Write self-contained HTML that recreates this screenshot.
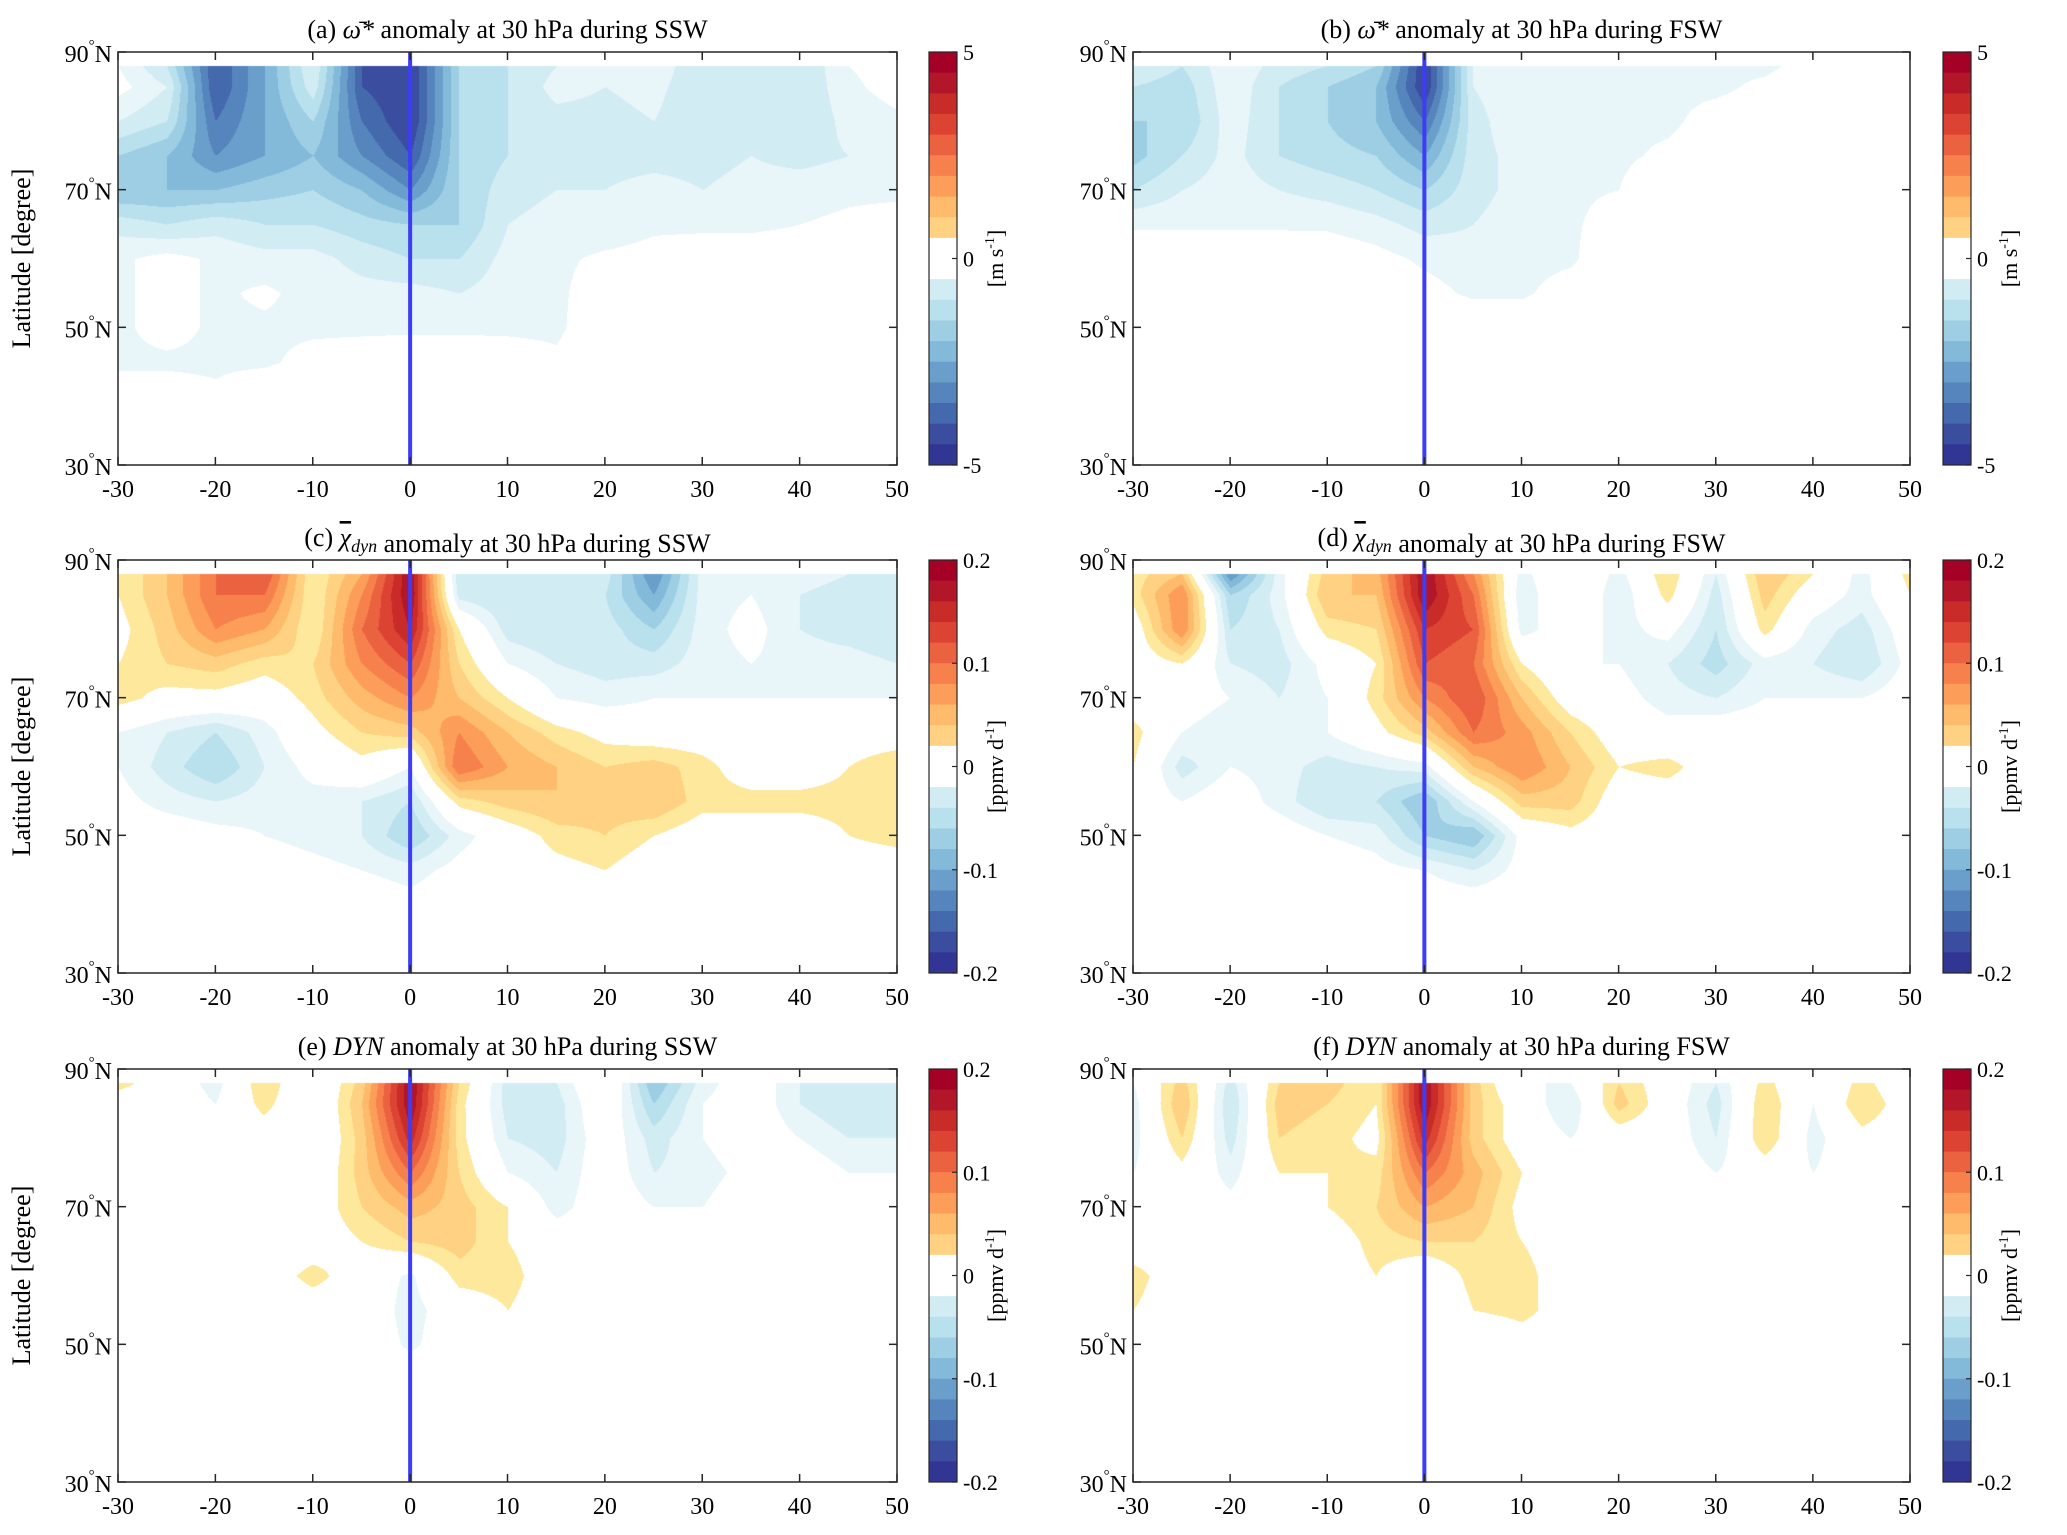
<!DOCTYPE html>
<html><head><meta charset="utf-8">
<style>
html,body{margin:0;padding:0;background:#fff;}
#root{position:relative;width:2067px;height:1535px;overflow:hidden;background:#fff;font-family:"Liberation Serif",serif;}
canvas{position:absolute;}
svg{position:absolute;left:0;top:0;}
</style></head>
<body>
<div id="root">
<svg id="ov" width="2067" height="1535"></svg>
</div>
<script>
// ---- data (rows = latitudes, cols = days) ----
const days = [-30,-25,-20,-15,-10,-5,0,5,10,15,20,25,30,35,40,45,50];
const lats = [88,85,80,75,70,65,60,55,50,45,40,35,30];
const xTicks = [-30,-20,-10,0,10,20,30,40,50];
const yTicks = [90,70,50,30];
const cbTicksOmega = [5,0,-5];
const cbTicksChi = [0.2,0.1,0,-0.1,-0.2];
const Z=[0,0,0,0,0,0,0,0,0,0,0,0,0,0,0,0,0];
const omegaSSW = [
[-0.5,-1.5,-4.5,-3,-1,-4.5,-5,-2,-1.5,-1,-1,-0.6,-1.5,-1,-1.5,-0.5,-0.3],
[-0.3,-1,-4.5,-3,-1.2,-4.5,-5,-2,-1.5,-0.8,-1,-0.8,-1.5,-1,-1.5,-0.6,-0.3],
[-1,-1.5,-4,-3,-2,-4,-5,-2,-1.5,-1.2,-1.2,-1,-1.5,-1,-1.5,-0.8,-0.6],
[-2,-2.5,-3.5,-3,-2.5,-3.5,-4.5,-2,-1.5,-1.2,-1.2,-1.2,-1.2,-1,-1.2,-1,-0.7],
[-2.5,-2.5,-2.5,-2.2,-2,-2.5,-3.5,-2,-1.2,-1,-1,-0.8,-1,-0.8,-0.7,-0.6,-0.6],
[-1.2,-1.5,-1.2,-1.5,-1.5,-1.8,-2,-2,-1,-0.8,-0.8,-0.6,-0.6,-0.6,-0.5,-0.4,-0.3],
[-0.6,-0.3,-0.6,-0.8,-0.8,-1.2,-1.5,-1.5,-0.8,-0.6,-0.4,-0.3,-0.2,-0.2,-0.2,-0.1,-0.1],
[-0.6,-0.3,-0.6,-0.4,-0.7,-0.8,-0.8,-1,-0.7,-0.6,-0.2,-0.1,0,0,0,0,0],
[-0.6,-0.3,-0.6,-0.6,-0.6,-0.6,-0.6,-0.6,-0.6,-0.6,-0.1,0,0,0,0,0,0],
[-0.6,-0.6,-0.6,-0.6,-0.3,-0.2,-0.1,-0.1,-0.2,-0.4,0,0,0,0,0,0,0],
[-0.2,-0.2,-0.4,0,0,0,0,0,0,0,0,0,0,0,0,0,0],
Z,Z];
const omegaFSW = [
[-1,-1.5,-0.6,-1.2,-1.5,-2,-5,-1,-0.6,-0.6,-0.6,-0.6,-0.6,-0.6,-0.3,-0.2,0],
[-1.5,-1.8,-0.6,-1.5,-2,-2.5,-5,-1,-0.6,-0.6,-0.6,-0.6,-0.6,-0.4,-0.2,-0.3,0],
[-2,-2,-0.7,-1.5,-2,-2.5,-4,-1.2,-0.6,-0.6,-0.6,-0.6,-0.3,-0.2,0,0,0],
[-2.2,-1.5,-0.8,-1.5,-1.8,-2,-3,-1.2,-0.8,-0.6,-0.6,-0.4,-0.2,0,0,0,0],
[-1.5,-1,-0.7,-1,-1.2,-1.5,-2,-1.2,-0.8,-0.6,-0.5,0,0,0,0,0,0],
[-0.6,-0.6,-0.6,-0.6,-0.6,-0.8,-1.2,-1,-0.7,-0.6,-0.2,0,0,0,0,0,0],
[0,0,0,0,-0.1,-0.3,-0.6,-0.8,-0.7,-0.6,0,0,0,0,0,0,0],
[0,0,0,0,0,0,-0.3,-0.6,-0.6,-0.2,0,0,0,0,0,0,0],
Z,Z,Z,Z,Z];
const chiSSW = [
[.02,.06,.12,.14,.02,.08,.2,-.06,-.06,-.05,-.05,-.14,-.03,-.03,-.03,-.04,-.05],
[.02,.06,.12,.12,.02,.1,.2,-.05,-.06,-.06,-.06,-.12,-.03,-.02,-.04,-.05,-.06],
[.01,.05,.1,.08,.02,.12,.18,.02,-.05,-.06,-.05,-.08,-.03,-.01,-.04,-.05,-.06],
[.02,.04,.05,.03,.04,.1,.14,.04,-.02,-.04,-.05,-.05,-.03,-.02,-.03,-.03,-.04],
[.03,.01,.01,0,.03,.07,.1,.06,.02,-.02,-.03,-.02,-.02,-.02,-.02,-.02,-.02],
[-.02,-.04,-.06,-.03,.01,.04,.05,.1,.06,.03,.01,0,0,-.01,0,0,0],
[-.02,-.05,-.08,-.04,-.01,.01,-.02,.12,.08,.06,.04,.05,.03,0,0,.02,.04],
[-.01,-.03,-.04,-.03,-.03,-.04,-.06,.03,.05,.06,.05,.06,.03,.03,.03,.03,.04],
[0,0,-.01,-.02,-.03,-.04,-.08,-.03,0,.03,.04,.02,0,0,0,.02,.03],
[0,0,0,0,-.01,-.02,-.03,-.01,0,.01,.02,0,0,0,0,0,0],
[0,0,0,0,0,0,-.01,0,0,0,0,0,0,0,0,0,0],
Z,Z];
const chiFSW = [
[.03,.06,-.14,-.03,.05,.07,.2,.1,-.03,.02,-.03,.04,-.04,.06,.02,-.03,.03],
[.03,.1,-.08,-.03,.06,.06,.2,.12,-.04,.02,-.04,.03,-.05,.05,0,-.03,.02],
[0,.1,-.06,-.04,.03,.04,.16,.14,-.03,0,-.03,-.01,-.06,.03,-.03,-.05,0],
[0,.02,-.04,-.05,-.01,.02,.14,.12,.02,-.02,-.02,-.04,-.07,-.03,-.04,-.06,-.01],
[0,0,-.02,-.04,-.02,.03,.1,.14,.06,0,-.01,-.03,-.04,-.02,-.02,-.02,0],
[.03,-.02,-.04,-.02,-.02,.01,.05,.12,.09,.04,0,-.01,0,0,0,0,0],
[.02,-.05,-.02,-.03,-.05,-.04,-.03,.06,.1,.06,.02,.03,0,0,0,0,0],
[0,-.02,0,-.03,-.06,-.06,-.1,-.02,.05,.05,0,0,0,0,0,0,0],
[0,0,0,0,-.02,-.03,-.08,-.1,-.01,.01,0,0,0,0,0,0,0],
[0,0,0,0,0,-.01,-.02,-.04,-.01,0,0,0,0,0,0,0,0],
Z,Z,Z];
const dynSSW = [
[.03,0,-.03,.04,-.02,.05,.2,.04,-.05,-.04,.02,-.1,-.03,0,-.04,-.06,-.04],
[0,0,-.02,.03,-.02,.06,.2,.03,-.05,-.05,.01,-.08,-.02,0,-.04,-.06,-.05],
[0,0,0,0,-.02,.05,.17,.03,-.04,-.05,0,-.05,-.02,0,-.02,-.04,-.04],
[0,0,0,0,-.01,.05,.12,.04,-.02,-.04,0,-.04,-.03,-.01,0,-.02,-.02],
[.01,0,0,0,0,.04,.07,.05,.02,-.03,0,-.02,-.02,0,0,-.01,0],
[0,0,0,0,0,.02,.04,.05,.02,0,0,0,0,0,0,0,0],
[0,0,0,0,.03,0,-.025,.03,.03,0,0,0,0,0,0,0,0],
[0,0,0,0,0,0,-.03,0,.02,0,0,0,0,0,0,0,0],
[0,0,0,0,0,0,-.025,0,0,0,0,0,0,0,0,0,0],
Z,Z,Z,Z];
const dynFSW = [
[-.02,.05,-.05,.04,.05,.02,.2,.05,-.02,-.02,.04,0,-.04,.03,-.02,.03,-.01],
[-.03,.06,-.06,.05,.04,.02,.2,.05,0,-.04,.05,0,-.05,.04,-.02,.04,0],
[-.03,.04,-.05,.04,.03,.01,.17,.05,0,-.02,0,0,-.04,.04,-.03,.01,0],
[-.02,.01,-.03,.02,.02,.03,.12,.07,.02,0,0,0,-.02,0,-.02,0,0],
[0,0,-.01,0,.02,.04,.08,.06,.01,0,0,0,0,0,0,0,0],
[0,0,0,0,0,.03,.04,.04,.02,0,0,0,0,0,0,0,0],
[.03,0,0,0,0,.02,-.01,.03,.03,0,0,0,0,0,0,0,0],
[.02,0,0,0,0,0,-.02,.02,.03,0,0,0,0,0,0,0,0],
[0,0,0,0,0,0,-.01,-.02,0,0,0,0,0,0,0,0,0],
Z,Z,Z,Z];

const posCols=['#fee89b','#fed282','#fdbb6b','#fc9e59','#f7814c','#ea623f','#dc4332','#c92b28','#b21628','#a50026'];
const negCols=['#e8f5f9','#d2ecf4','#b9e0ed','#9ecee3','#83b9d9','#6b9fcb','#5685bd','#4469ad','#3a4d9f','#313695'];

const svg=document.getElementById('ov');
const root=document.getElementById('root');
const NS='http://www.w3.org/2000/svg';
function mk(tag,attrs,parent){const e=document.createElementNS(NS,tag);for(const k in attrs)e.setAttribute(k,attrs[k]);(parent||svg).appendChild(e);return e;}

const panels=[
 {id:'a',x:118,y:52,w:779,h:413,data:omegaSSW,max:5,ticks:cbTicksOmega,cbx:929,unit:'m s',letter:'(a) ',sym:'omega',tail:' anomaly at 30 hPa during SSW',ylab:true},
 {id:'b',x:1133,y:52,w:777,h:413,data:omegaFSW,max:5,ticks:cbTicksOmega,cbx:1943,unit:'m s',letter:'(b) ',sym:'omega',tail:' anomaly at 30 hPa during FSW',ylab:false},
 {id:'c',x:118,y:560,w:779,h:413,data:chiSSW,max:0.2,ticks:cbTicksChi,cbx:929,unit:'ppmv d',letter:'(c) ',sym:'chi',tail:' anomaly at 30 hPa during SSW',ylab:true},
 {id:'d',x:1133,y:560,w:777,h:413,data:chiFSW,max:0.2,ticks:cbTicksChi,cbx:1943,unit:'ppmv d',letter:'(d) ',sym:'chi',tail:' anomaly at 30 hPa during FSW',ylab:false},
 {id:'e',x:118,y:1069,w:779,h:413,data:dynSSW,max:0.2,ticks:cbTicksChi,cbx:929,unit:'ppmv d',letter:'(e) ',sym:'dyn',tail:' anomaly at 30 hPa during SSW',ylab:true},
 {id:'f',x:1133,y:1069,w:777,h:413,data:dynFSW,max:0.2,ticks:cbTicksChi,cbx:1943,unit:'ppmv d',letter:'(f) ',sym:'dyn',tail:' anomaly at 30 hPa during FSW',ylab:false}
];

function sample(data,day,lat){
  let cf=(day-days[0])/5; cf=Math.max(0,Math.min(days.length-1.0001,cf));
  const c0=Math.floor(cf),tc=cf-c0;
  let r0=0; while(r0<lats.length-2 && lat<lats[r0+1]) r0++;
  let tr=(lats[r0]-lat)/(lats[r0]-lats[r0+1]); tr=Math.max(0,Math.min(1,tr));
  const a=data[r0][c0],b=data[r0][c0+1],c=data[r0+1][c0],d=data[r0+1][c0+1];
  return (a*(1-tc)+b*tc)*(1-tr)+(c*(1-tc)+d*tc)*tr;
}
function hex(h){return [parseInt(h.slice(1,3),16),parseInt(h.slice(3,5),16),parseInt(h.slice(5,7),16)];}
const xScale=(p,d)=>p.x+(d+30)/80*p.w;
const yScale=(p,l)=>p.y+(90-l)/60*p.h;

panels.forEach(p=>{
  const cv=document.createElement('canvas');
  
  
  cv.width=p.w;cv.height=p.h;cv.style.left=p.x+'px';cv.style.top=p.y+'px';
  root.insertBefore(cv,svg);
  const ctx=cv.getContext('2d');const img=ctx.createImageData(p.w,p.h);
  const step=p.max/10;
  for(let py=0;py<p.h;py++){
    const lat=90-60*py/p.h;
    for(let px=0;px<p.w;px++){
      const day=-30+80*px/p.w;
      let col=[255,255,255];
      if(lat<=88){
        const v=sample(p.data,day,lat);
        const band=Math.min(10,Math.floor(Math.abs(v)/step+1e-9));
        if(band>0) col=hex(v>0?posCols[band-1]:negCols[band-1]);
      }
      const i=(py*p.w+px)*4;img.data[i]=col[0];img.data[i+1]=col[1];img.data[i+2]=col[2];img.data[i+3]=255;
    }
  }
  ctx.putImageData(img,0,0);

  const zl=mk('line',{x1:xScale(p,0),x2:xScale(p,0),y1:p.y,y2:p.y+p.h,stroke:'#3d3df5','stroke-width':4});
  
  
  const fr=mk('rect',{x:p.x,y:p.y,width:p.w,height:p.h,fill:'none',stroke:'#262626','stroke-width':1.5});
  
  
  xTicks.forEach(t=>{
    const x=xScale(p,t);
    mk('line',{x1:x,x2:x,y1:p.y+p.h,y2:p.y+p.h-8,stroke:'#262626','stroke-width':1.5});
    mk('line',{x1:x,x2:x,y1:p.y,y2:p.y+8,stroke:'#262626','stroke-width':1.5});
    const tx=mk('text',{x:x,y:p.y+p.h+32,'text-anchor':'middle','font-size':24,fill:'#000'});
    tx.textContent=String(t);
    
    
  });
  yTicks.forEach(t=>{
    const y=yScale(p,t);
    mk('line',{x1:p.x,x2:p.x+8,y1:y,y2:y,stroke:'#262626','stroke-width':1.5});
    mk('line',{x1:p.x+p.w,x2:p.x+p.w-8,y1:y,y2:y,stroke:'#262626','stroke-width':1.5});
    const tx=mk('text',{x:p.x-6,y:y+10,'text-anchor':'end','font-size':24,fill:'#000'});
    
    
    const s1=mk('tspan',{},tx);s1.textContent=String(t);
    const s2=mk('tspan',{'font-size':15,dy:-12},tx);s2.textContent='°';
    const s3=mk('tspan',{dy:12},tx);s3.textContent='N';
  });
  const tt=mk('text',{x:p.x+p.w/2,y:p.y-14,'text-anchor':'middle','font-size':26,fill:'#000'});
  
  
  const t1=mk('tspan',{},tt);t1.textContent=p.letter;
  if(p.sym==='omega'){const s=mk('tspan',{'font-style':'italic'},tt);s.textContent='ω̄*';}
  else if(p.sym==='chi'){const s=mk('tspan',{'text-decoration':'overline','font-style':'italic'},tt);s.textContent='χ';const s2=mk('tspan',{'font-style':'italic','font-size':18,dy:6},tt);s2.textContent='dyn';const s3=mk('tspan',{dy:-6},tt);s3.textContent='';}
  else {const s=mk('tspan',{'font-style':'italic'},tt);s.textContent='DYN';}
  const t2=mk('tspan',{},tt);t2.textContent=p.tail;
  if(p.ylab){
    const yl=mk('text',{x:0,y:0,'text-anchor':'middle','font-size':26,fill:'#000',transform:`translate(${p.x-88},${p.y+p.h/2}) rotate(-90)`});
    yl.textContent='Latitude [degree]';
    
    
  }
  const cbw=28, bh=p.h/20;
  for(let i=0;i<20;i++){
    let c;
    if(i<10) c=posCols[9-i]; else c=negCols[i-10];
    if(i===9||i===10) c='#ffffff';
    const r=mk('rect',{x:p.cbx,y:p.y+i*bh,width:cbw,height:bh+0.5,fill:c});
    
    
  }
  const cbf=mk('rect',{x:p.cbx,y:p.y,width:cbw,height:p.h,fill:'none',stroke:'#262626','stroke-width':1.2});
  
  
  p.ticks.forEach(t=>{
    const y=p.y+(p.max-t)/(2*p.max)*p.h;
    mk('line',{x1:p.cbx+cbw,x2:p.cbx+cbw-5,y1:y,y2:y,stroke:'#262626','stroke-width':1.2});
    const tx=mk('text',{x:p.cbx+cbw+6,y:y+8,'font-size':22,fill:'#000'});
    tx.textContent=String(t);
    
    
  });
  const ul=mk('text',{x:0,y:0,'text-anchor':'middle','font-size':22,fill:'#000',transform:`translate(${p.cbx+cbw+46},${p.y+p.h/2}) rotate(-90)`});
  
  
  const u1=mk('tspan',{},ul);u1.textContent='['+p.unit;
  const u2=mk('tspan',{'font-size':14,dy:-9},ul);u2.textContent='-1';
  const u3=mk('tspan',{dy:9},ul);u3.textContent=']';
});
</script>
</body></html>
